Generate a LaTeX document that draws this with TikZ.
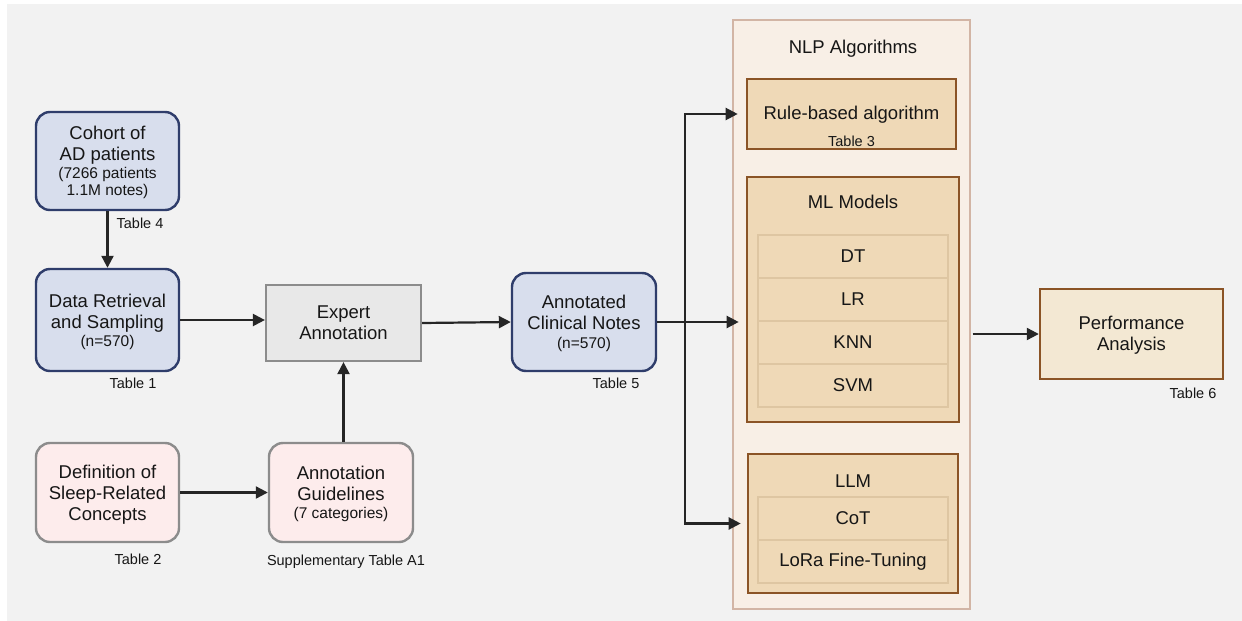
\documentclass[tikz,border=0pt]{standalone}
\usepackage{fontspec}
\setmainfont{Liberation Sans}
\usetikzlibrary{arrows.meta}
\definecolor{bg}{HTML}{F2F2F2}
\definecolor{bluefill}{HTML}{D8DEED}
\definecolor{blueline}{HTML}{2F3D6B}
\definecolor{pinkfill}{HTML}{FDECEC}
\definecolor{grayline}{HTML}{8C8C8C}
\definecolor{grayfill}{HTML}{E8E8E8}
\definecolor{nlpfill}{HTML}{F8EFE6}
\definecolor{nlpline}{HTML}{D2B5A5}
\definecolor{brownfill}{HTML}{EFD9B7}
\definecolor{brownline}{HTML}{8B5426}
\definecolor{rowline}{HTML}{DEC6A2}
\definecolor{perffill}{HTML}{F3E8D3}
\definecolor{txtc}{HTML}{161616}
\definecolor{arrc}{HTML}{262626}
\newcommand\mainsz{\fontsize{18.5}{21}\selectfont}
\newcommand\subsz{\fontsize{15.5}{17}\selectfont}
\newcommand\tblsz{\fontsize{14.5}{16}\selectfont}
\begin{document}
\begin{tikzpicture}[x=1pt,y=-1pt,
  bluebox/.style={draw=blueline, fill=bluefill, line width=2.4pt, rounded corners=14pt, inner sep=0pt},
  pinkbox/.style={draw=grayline, fill=pinkfill, line width=2.4pt, rounded corners=14pt, inner sep=0pt},
  graybox/.style={draw=grayline, fill=grayfill, line width=2.2pt, inner sep=0pt},
  nlpbox/.style={draw=nlpline, fill=nlpfill, line width=1.2pt, inner sep=0pt},
  brownbox/.style={draw=brownline, fill=brownfill, line width=2.6pt, inner sep=0pt},
  perfbox/.style={draw=brownline, fill=perffill, line width=2.4pt, inner sep=0pt},
  rowbox/.style={draw=rowline, fill=brownfill, line width=1.6pt, inner sep=0pt, minimum width=190pt, minimum height=43pt, text=txtc, font=\mainsz},
  mtxt/.style={anchor=base, inner sep=0pt, text=txtc, font=\mainsz},
  stxt/.style={anchor=base, inner sep=0pt, text=txtc, font=\subsz},
  ttxt/.style={anchor=base, inner sep=0pt, text=txtc, font=\tblsz},
  arr/.style={draw=arrc, line width=2.2pt, -{Triangle[length=12pt,width=12pt]}},
  plain/.style={draw=arrc, line width=2.2pt}
]
\useasboundingbox (0,0) rectangle (1242,621);
\fill[white] (0,0) rectangle (1242,621);
\fill[bg] (7,4) rectangle (1242,621);

% left column boxes
\node[bluebox, minimum width=143pt, minimum height=98pt] (cohort) at (107.5,161) {};
\node[mtxt] (c1) at (107.5,139) {Cohort of};
\node[mtxt] (c2) at (107.5,160) {AD patients};
\node[stxt] (c3) at (107.5,178) {(7266 patients};
\node[stxt] (c4) at (107.5,195) {1.1M notes)};
\node[ttxt] (tab4) at (140,228) {Table 4};

\node[bluebox, minimum width=143pt, minimum height=102pt] (data) at (107.5,320) {};
\node[mtxt] (d1) at (107.5,307) {Data Retrieval};
\node[mtxt] (d2) at (107.5,328) {and Sampling};
\node[stxt] (d3) at (107.5,346) {(n=570)};
\node[ttxt] (tab1) at (133,388) {Table 1};

\node[pinkbox, minimum width=143pt, minimum height=99pt] (def) at (107.5,492.5) {};
\node[mtxt] (e1) at (107.5,478) {Definition of};
\node[mtxt] (e2) at (107.5,499) {Sleep-Related};
\node[mtxt] (e3) at (107.5,520) {Concepts};
\node[ttxt] (tab2) at (138,564) {Table 2};

% middle
\node[graybox, minimum width=155pt, minimum height=76pt] (expert) at (343.5,323) {};
\node[mtxt] (x1) at (343.5,318) {Expert};
\node[mtxt] (x2) at (343.5,339) {Annotation};

\node[pinkbox, minimum width=144pt, minimum height=99pt] (guide) at (341,492.5) {};
\node[mtxt] (g1) at (341,479) {Annotation};
\node[mtxt] (g2) at (341,500) {Guidelines};
\node[stxt] (g3) at (341,518) {(7 categories)};
\node[ttxt] (tabA1) at (346,565) {Supplementary Table A1};

\node[bluebox, minimum width=144pt, minimum height=98pt] (annot) at (584,322) {};
\node[mtxt] (a1) at (584,308) {Annotated};
\node[mtxt] (a2) at (584,329) {Clinical Notes};
\node[stxt] (a3) at (584,348) {(n=570)};
\node[ttxt] (tab5) at (616,388) {Table 5};

% NLP algorithms
\node[nlpbox, minimum width=237pt, minimum height=589pt] (nlp) at (851.5,314.5) {};
\node[mtxt] (nlpt) at (853,53) {NLP Algorithms};

\node[brownbox, minimum width=209pt, minimum height=70pt] (rule) at (851.5,114) {};
\node[mtxt] (r1) at (851.5,119) {Rule-based algorithm};
\node[ttxt] (tab3) at (851.5,146) {Table 3};

\node[brownbox, minimum width=212pt, minimum height=245pt] (ml) at (853,299.5) {};
\node[mtxt] (mlt) at (853,208) {ML Models};
\node[rowbox] (dt) at (853,256.5) {DT};
\node[rowbox] (lr) at (853,299.5) {LR};
\node[rowbox] (knn) at (853,342.5) {KNN};
\node[rowbox] (svm) at (853,385.5) {SVM};

\node[brownbox, minimum width=210pt, minimum height=139pt] (llm) at (853,523.5) {};
\node[mtxt] (llmt) at (853,487) {LLM};
\node[rowbox] (cot) at (853,518.5) {CoT};
\node[rowbox] (lora) at (853,561.5) {LoRa Fine-Tuning};

% performance
\node[perfbox, minimum width=183pt, minimum height=90pt] (perf) at (1131.5,334) {};
\node[mtxt] (p1) at (1131.5,329) {Performance};
\node[mtxt] (p2) at (1131.5,350) {Analysis};
\node[ttxt] (tab6) at (1193,398) {Table 6};

% connectors
\draw[arr] (cohort.south) -- (data.north);
\draw[arr] (data.east) -- (data.east -| expert.west);
\draw[arr] (def.east) -- (def.east -| guide.west);
\draw[arr] (expert.south |- guide.north) -- (expert.south);
\draw[arr] (expert.east) -- (annot.west);
\coordinate (br) at (685,322);
\draw[plain] (annot.east) -- (br);
\draw[arr, shorten >=7pt] (br) -- (br -| ml.west);
\draw[arr, shorten >=8pt] (br) |- (rule.west);
\draw[arr, shorten >=6pt] (br) |- (llm.west);
\draw[arr, shorten <=2pt] (nlp.east |- perf.west) -- (perf.west);
\end{tikzpicture}
\end{document}
